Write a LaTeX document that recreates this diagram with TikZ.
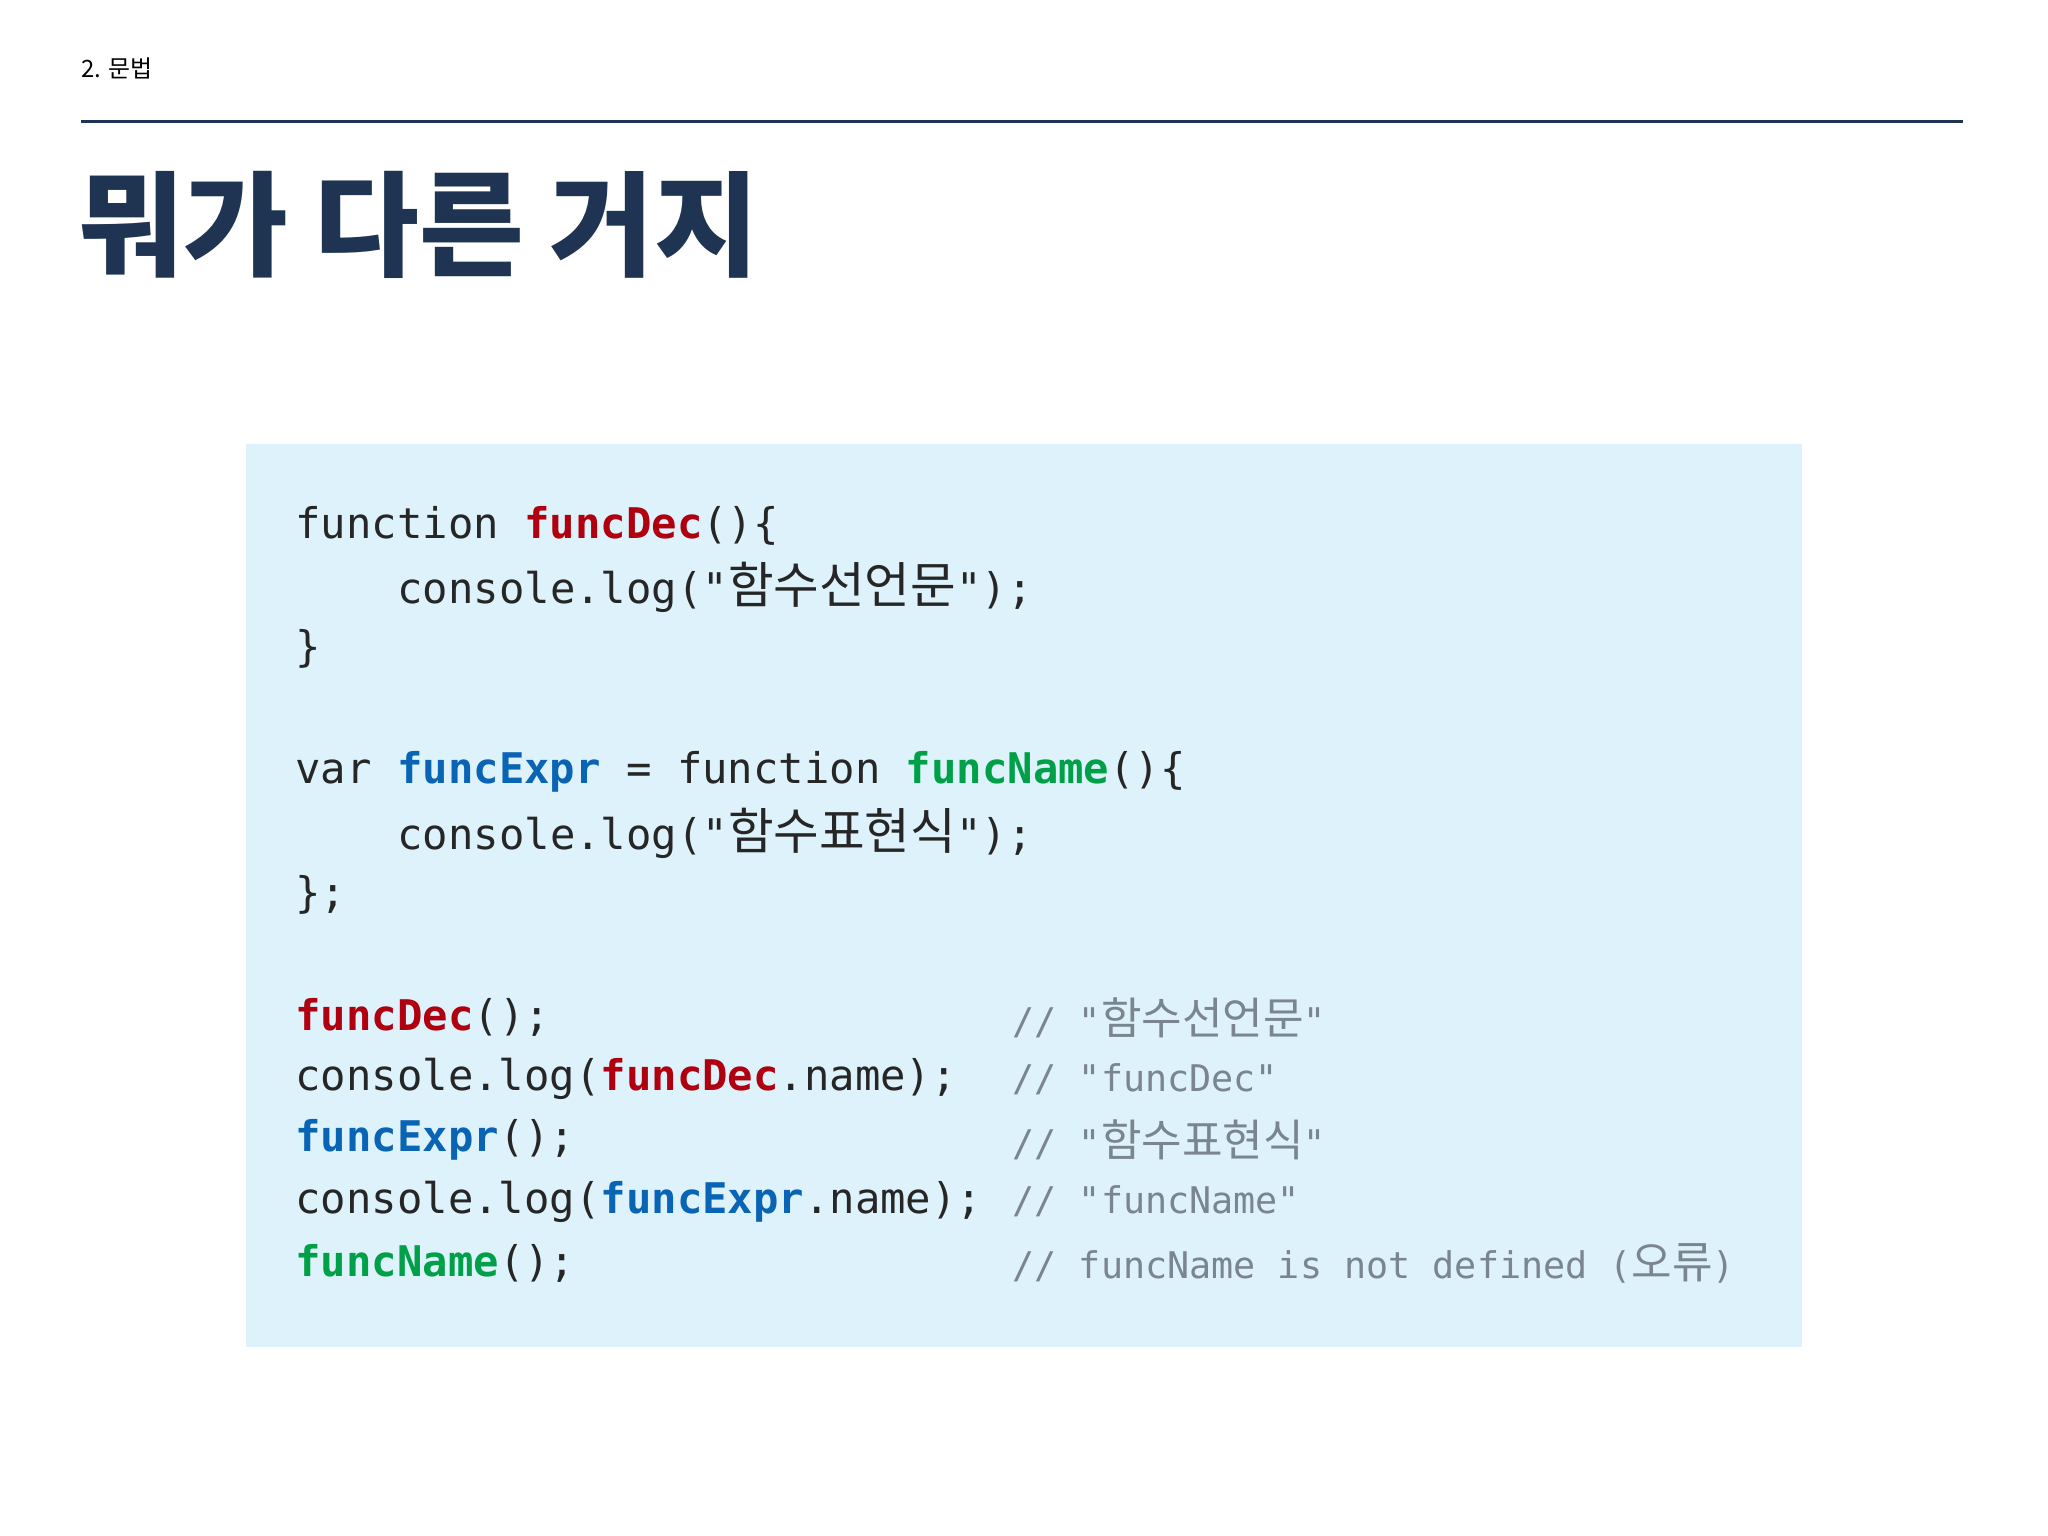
\documentclass[tikz,border=0pt]{standalone}
\usepackage{fontspec}
\newfontfamily\kr{Noto Sans CJK KR}
\newfontfamily\codef{DejaVu Sans Mono}
\definecolor{navy}{HTML}{1F3352}
\definecolor{boxbg}{HTML}{DDF2FA}
\definecolor{cred}{HTML}{B00010}
\definecolor{cblue}{HTML}{0A64B4}
\definecolor{cgreen}{HTML}{00A048}
\definecolor{cgray}{HTML}{7A8590}
\newcommand{\KR}[1]{{\kr\fontsize{27}{28}\selectfont #1}}
\newcommand{\KRc}[1]{{\kr\fontsize{24}{28}\selectfont #1}}
\newcommand{\cR}[1]{\textcolor{cred}{\bfseries #1}}
\newcommand{\cB}[1]{\textcolor{cblue}{\bfseries #1}}
\newcommand{\cG}[1]{\textcolor{cgreen}{\bfseries #1}}
\tikzset{code/.style={anchor=west,inner sep=0pt,font=\codef\fontsize{23}{28}\selectfont,text=black!85},
cmt/.style={anchor=west,inner sep=0pt,font=\codef\fontsize{20}{28}\selectfont,text=cgray}}
\begin{document}
\begin{tikzpicture}[x=0.025cm,y=-0.025cm]
\useasboundingbox (0,0) rectangle (1568,1176);
\fill[white] (0,0) rectangle (1568,1176);
\node[anchor=west,inner sep=0pt,font=\kr\fontsize{13}{15}\selectfont] (hdr) at (62,52) {2. 문법};
\draw[navy,line width=1.5pt] (62,93) -- (1503,93);
\node[anchor=west,inner sep=0pt,font=\kr\bfseries\fontsize{62}{66}\selectfont,text=navy] (title) at (60,172) {뭐가 다른 거지};
\fill[boxbg] (188,340) rectangle (1380,1031);
\node[code] (l1) at (226,403) {function \cR{funcDec}()\{};
\node[code] (l2) at (304,450) {console.log("\KR{함수선언문}");};
\node[code] (l3) at (226,497) {\}};
\node[code] (l4) at (226,591) {var \cB{funcExpr} = function \cG{funcName}()\{};
\node[code] (l5) at (304,638) {console.log("\KR{함수표현식}");};
\node[code] (l6) at (226,685) {\};};
\node[code] (l7) at (226,779) {\cR{funcDec}();};
\node[code] (l8) at (226,826) {console.log(\cR{funcDec}.name);};
\node[code] (l9) at (226,873) {\cB{funcExpr}();};
\node[code] (l10) at (226,920) {console.log(\cB{funcExpr}.name);};
\node[code] (l11) at (226,967) {\cG{funcName}();};
\node[cmt] (c7) at (775,779) {// "\KRc{함수선언문}"};
\node[cmt] (c8) at (775,826) {// "funcDec"};
\node[cmt] (c9) at (775,873) {// "\KRc{함수표현식}"};
\node[cmt] (c10) at (775,920) {// "funcName"};
\node[cmt] (c11) at (775,967) {// funcName is not defined (\KRc{오류})};
\end{tikzpicture}
\end{document}
